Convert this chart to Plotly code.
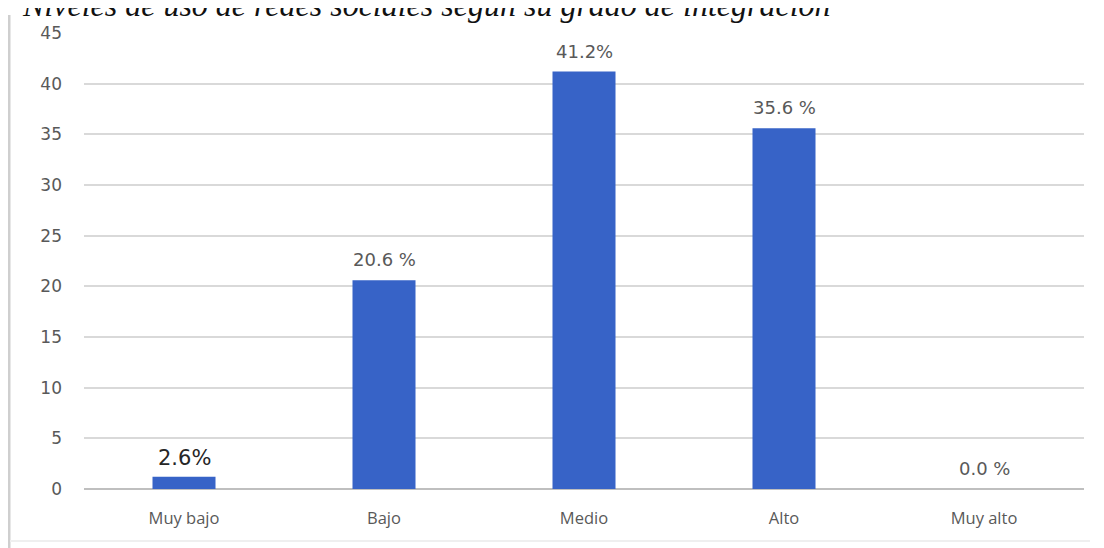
import plotly.graph_objects as go

categories = ["Muy bajo", "Bajo", "Medio", "Alto", "Muy alto"]
bar_heights = [1.2, 20.6, 41.2, 35.6, 0.0]
bar_labels = ["2.6%", "20.6 %", "41.2%", "35.6 %", "0.0 %"]
y_ticks = [0, 5, 10, 15, 20, 25, 30, 35, 40, 45]
title_text = "Niveles de uso de redes sociales según su grado de integración"

BAR_COLOR = "#3763C7"
TEXT_GRAY = "#595959"
NUM_FONT = "DejaVu Sans, Verdana, sans-serif"

# the page body adds an 8px offset; figure geometry compensates for it
W, H = 1096, 540
L, R, T, B = 76, 20, 25, 59
PH = H - T - B


def py(screen_y):
    """paper y coordinate for a screen pixel row"""
    fig_y = screen_y - 8
    return (H - B - fig_y) / PH


def px(screen_x):
    fig_x = screen_x - 8
    return (fig_x - L) / (W - L - R)


fig = go.Figure()
fig.add_trace(go.Bar(
    x=categories, y=bar_heights, marker=dict(color=BAR_COLOR, line=dict(width=0)),
    width=0.315, hoverinfo="skip",
))

for i, (c, h, lab) in enumerate(zip(categories, bar_heights, bar_labels)):
    first = i == 0
    fig.add_annotation(
        x=c, y=h, xref="x", yref="y", text=lab, showarrow=False,
        yanchor="bottom", yshift=5 if first else 8,
        font=dict(family=NUM_FONT, size=21 if first else 18,
                  color="#262626" if first else TEXT_GRAY),
    )

fig.add_annotation(
    x=px(20), y=py(5), xref="paper", yref="paper", text="<i>" + title_text + "</i>",
    showarrow=False, xanchor="left", yanchor="middle",
    font=dict(family="Liberation Serif, Times New Roman, serif", size=32, color="#111111"),
)

# left frame border and faint bottom border
fig.add_shape(type="line", xref="paper", yref="paper",
              x0=px(9), x1=px(9), y0=py(15), y1=py(560),
              line=dict(color="#cfcfcf", width=3))
fig.add_shape(type="line", xref="paper", yref="paper",
              x0=px(10), x1=px(1090), y0=py(541), y1=py(541),
              line=dict(color="#efefef", width=2))

fig.update_layout(
    width=W, height=H,
    margin=dict(l=L, r=R, t=T, b=B),
    paper_bgcolor="white", plot_bgcolor="white",
    showlegend=False,
    font=dict(family="Open Sans, Lato, sans-serif", color=TEXT_GRAY),
)
fig.update_xaxes(
    showgrid=False, showline=False, ticks="", ticklabelstandoff=17,
    tickfont=dict(family="Open Sans, sans-serif", size=16.5, color=TEXT_GRAY), fixedrange=True,
)
fig.update_yaxes(
    range=[0, 45], tickvals=y_ticks, showgrid=True, gridcolor="#d9d9d9", gridwidth=1.5,
    zeroline=True, zerolinecolor="#bfbfbf", zerolinewidth=1.5,
    showline=False, ticks="", ticklabelstandoff=21,
    tickfont=dict(family=NUM_FONT, size=17, color=TEXT_GRAY), fixedrange=True,
)

fig.write_html("out.html")
